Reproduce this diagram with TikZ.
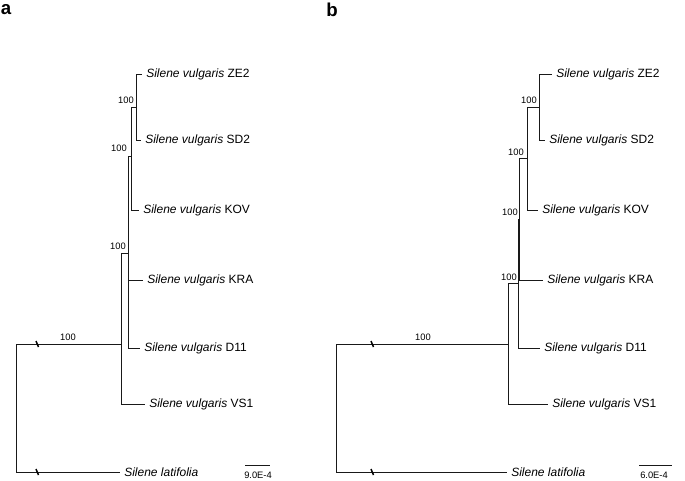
\documentclass[tikz,border=0pt]{standalone}
\usepackage{fontspec}
\setmainfont{Liberation Sans}
\usetikzlibrary{positioning}

\begin{document}
\begin{tikzpicture}[
  x=0.75pt,y=-0.75pt,
  branch/.style={draw=black!90,line width=0.6pt},
  taxon/.style={anchor=west,inner sep=0pt,font=\fontsize{9}{10}\selectfont},
  support/.style={anchor=south east,inner sep=0pt,font=\fontsize{7}{8}\selectfont},
  midsupport/.style={anchor=south,inner sep=0pt,font=\fontsize{7}{8}\selectfont},
  brk/.style={draw=black,line width=1.1pt},
  scalebar/.style={draw=black!90,line width=0.6pt},
  scaletext/.style={font=\fontsize{7}{8}\selectfont,inner sep=0pt},
  panel/.style={font=\fontsize{14}{16}\selectfont\bfseries,inner sep=0pt}
]
\useasboundingbox (0,0) rectangle (685,480);

% ---------------- panel a ----------------
\node[panel] (pa) at (6,10) {a};

% tips
\coordinate (aZE2) at (142,74);
\coordinate (aSD2) at (141,140);
\coordinate (aKOV) at (139,210);
\coordinate (aKRA) at (143,280);
\coordinate (aD11) at (140,348);
\coordinate (aVS1) at (145,404);
\coordinate (aLat) at (120,472);

\node[taxon,right=3pt of aZE2] (laZE2) {\textit{Silene vulgaris} ZE2};
\node[taxon,right=3pt of aSD2] (laSD2) {\textit{Silene vulgaris} SD2};
\node[taxon,right=3pt of aKOV] (laKOV) {\textit{Silene vulgaris} KOV};
\node[taxon,right=3pt of aKRA] (laKRA) {\textit{Silene vulgaris} KRA};
\node[taxon,right=3pt of aD11] (laD11) {\textit{Silene vulgaris} D11};
\node[taxon,right=3pt of aVS1] (laVS1) {\textit{Silene vulgaris} VS1};
\node[taxon,right=3pt of aLat] (laLat) {\textit{Silene latifolia}};

% internal nodes
\coordinate (aN1) at (136,107);
\coordinate (aN2) at (131,156);
\coordinate (aN3) at (128,253);
\coordinate (aN4) at (121,344);
\coordinate (aR)  at (16,408);

% branches
\draw[branch] (aN1) |- (aZE2) (aN1) |- (aSD2);
\draw[branch] (aN2) |- (aN1) (aN2) |- (aKOV);
\draw[branch] (aN3) |- (aN2) (aN3) |- (aKRA) (aN3) |- (aD11);
\draw[branch] (aN4) |- (aN3) (aN4) |- (aVS1);
\draw[branch] (aR) |- (aN4) (aR) |- (aLat);

% broken branches
\draw[brk] (36,341) -- (38.5,347);
\draw[brk] (36,469) -- (38.5,475);

% support values
\node[support] (sa1) at (134,104) {100};
\node[support] (sa2) at (127,152) {100};
\node[support] (sa3) at (126,250) {100};
\node[midsupport] (sa4) at (68,341) {100};

% scale bar
\coordinate (asb1) at (245,465);
\coordinate (asb2) at (270,465);
\draw[scalebar] (asb1) -- (asb2);
\node[scaletext] (asbl) at (258,475) {9.0E-4};

% ---------------- panel b ----------------
\node[panel] (pb) at (332,10) {b};

% tips
\coordinate (bZE2) at (552,74);
\coordinate (bSD2) at (545,140);
\coordinate (bKOV) at (538,210);
\coordinate (bKRA) at (543,280);
\coordinate (bD11) at (540,348);
\coordinate (bVS1) at (548,404);
\coordinate (bLat) at (507,472);

\node[taxon,right=3pt of bZE2] (lbZE2) {\textit{Silene vulgaris} ZE2};
\node[taxon,right=3pt of bSD2] (lbSD2) {\textit{Silene vulgaris} SD2};
\node[taxon,right=3pt of bKOV] (lbKOV) {\textit{Silene vulgaris} KOV};
\node[taxon,right=3pt of bKRA] (lbKRA) {\textit{Silene vulgaris} KRA};
\node[taxon,right=3pt of bD11] (lbD11) {\textit{Silene vulgaris} D11};
\node[taxon,right=3pt of bVS1] (lbVS1) {\textit{Silene vulgaris} VS1};
\node[taxon,right=3pt of bLat] (lbLat) {\textit{Silene latifolia}};

% internal nodes
\coordinate (bN1) at (539,107);
\coordinate (bN2) at (527,158);
\coordinate (bN3) at (519.5,219);
\coordinate (bN4) at (518,283);
\coordinate (bN5) at (508,344);
\coordinate (bR)  at (336,408);

% branches
\draw[branch] (bN1) |- (bZE2) (bN1) |- (bSD2);
\draw[branch] (bN2) |- (bN1) (bN2) |- (bKOV);
\draw[branch] (bN3) |- (bN2) (bN3) |- (bKRA);
\draw[branch] (bN4) |- (bN3) (bN4) |- (bD11);
\draw[branch] (bN5) |- (bN4) (bN5) |- (bVS1);
\draw[branch] (bR) |- (bN5) (bR) |- (bLat);

% broken branches
\draw[brk] (371,341) -- (373.5,347);
\draw[brk] (371,469) -- (373.5,475);

% support values
\node[support] (sb1) at (537,104) {100};
\node[support] (sb2) at (524,155.5) {100};
\node[support] (sb3) at (518,215.5) {100};
\node[support] (sb4) at (517,280.5) {100};
\node[midsupport] (sb5) at (423,341) {100};

% scale bar
\coordinate (bsb1) at (639,465);
\coordinate (bsb2) at (672,465);
\draw[scalebar] (bsb1) -- (bsb2);
\node[scaletext] (bsbl) at (654,475) {6.0E-4};

\end{tikzpicture}
\end{document}
